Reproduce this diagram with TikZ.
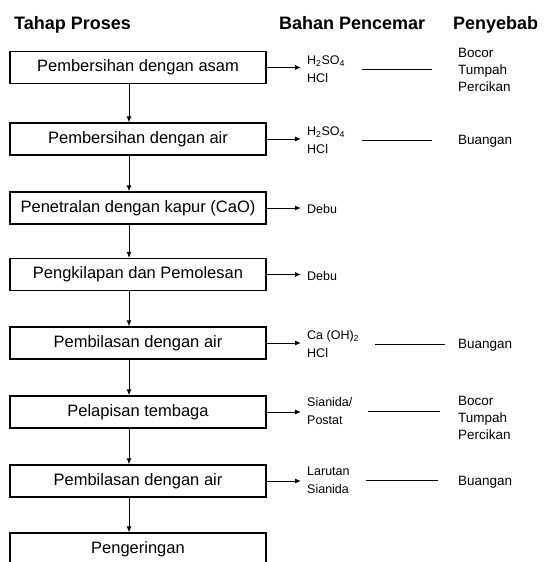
\documentclass[tikz,border=0pt]{standalone}
\usepackage{fontspec}
\setmainfont{Liberation Sans}
\usetikzlibrary{arrows.meta}
\begin{document}
\begin{tikzpicture}[x=1pt,y=-1pt,
  proc/.style={draw=black, line width=1.2pt, minimum width=256pt, minimum height=32pt, inner sep=0pt, font=\fontsize{16.5}{19}\selectfont},
  chem/.style={anchor=west, align=left, inner sep=2pt, font=\fontsize{12.5}{18}\selectfont},
  cause/.style={anchor=west, align=left, inner sep=2pt, font=\fontsize{13.5}{17}\selectfont},
  head/.style={anchor=base west, inner sep=0pt, font=\bfseries\fontsize{18}{20}\selectfont},
  flow/.style={line width=1pt, -{Latex[length=6pt,width=5pt]}},
  link/.style={line width=1pt}]
\useasboundingbox (0,0) rectangle (546,562);
\clip (0,0) rectangle (546,562);
\fill[white] (0,0) rectangle (546,562);

\node[head] (h1) at (14,29) {Tahap Proses};
\node[head] (h2) at (279,29) {Bahan Pencemar};
\node[head] (h3) at (453,29) {Penyebab};

\node[proc] (p1) at (138,67.5) {Pembersihan dengan asam};
\node[proc] (p2) at (138,139) {Pembersihan dengan air};
\node[proc] (p3) at (138,208) {Penetralan dengan kapur (CaO)};
\node[proc] (p4) at (138,274.5) {Pengkilapan dan Pemolesan};
\node[proc] (p5) at (138,343) {Pembilasan dengan air};
\node[proc] (p6) at (138,412) {Pelapisan tembaga};
\node[proc] (p7) at (138,481) {Pembilasan dengan air};
\node[proc] (p8) at (138,549) {Pengeringan};

\node[chem] (c1) at (305,69.5) {H\textsubscript{2}SO\textsubscript{4}\\HCl};
\node[chem] (c2) at (305,140) {H\textsubscript{2}SO\textsubscript{4}\\HCl};
\node[chem] (c3) at (305,209) {Debu};
\node[chem] (c4) at (305,276) {Debu};
\node[chem] (c5) at (305,344.5) {Ca (OH)\textsubscript{2}\\HCl};
\node[chem] (c6) at (305,411) {Sianida/\\Postat};
\node[chem] (c7) at (305,480) {Larutan\\Sianida};

\node[cause] (b1) at (456,70) {Bocor\\Tumpah\\Percikan};
\node[cause] (b2) at (456,141) {Buangan};
\node[cause] (b5) at (456,345) {Buangan};
\node[cause] (b6) at (456,418) {Bocor\\Tumpah\\Percikan};
\node[cause] (b7) at (456,482) {Buangan};

\foreach \a/\b in {p1/p2,p2/p3,p3/p4,p4/p5,p5/p6,p6/p7,p7/p8}
  \draw[flow] ([xshift=-9pt]\a.south) -- ([xshift=-9pt]\b.north);

\foreach \i in {1,...,7}
  \draw[flow, shorten >=4pt] (p\i.east) -- (p\i.east -| c\i.west);

\draw[link, shorten <=15pt, shorten >=24pt] (c1.east) -- (c1.east -| b1.west);
\draw[link, shorten <=15pt, shorten >=24pt] (c2.east) -- (c2.east -| b2.west);
\draw[link, shorten <=14pt, shorten >=11pt] (c5.east) -- (c5.east -| b5.west);
\draw[link, shorten <=13pt, shorten >=16pt] (c6.east) -- (c6.east -| b6.west);
\draw[link, shorten <=14pt, shorten >=18pt] (c7.east) -- (c7.east -| b7.west);
\end{tikzpicture}
\end{document}
